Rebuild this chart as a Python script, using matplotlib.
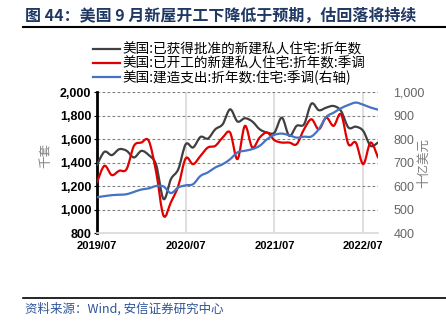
import numpy as np
import matplotlib
matplotlib.use("Agg")
import matplotlib.pyplot as plt
from matplotlib.path import Path
from matplotlib.patches import PathPatch
from matplotlib.lines import Line2D
from matplotlib.ticker import FuncFormatter

plt.rcParams['font.family'] = ['Liberation Sans', 'Noto Sans CJK SC', 'DejaVu Sans']
CJK = ['Noto Sans CJK SC', 'DejaVu Sans']

# monthly data, 2019/07 - 2022/09
permits = [1380, 1491, 1463, 1513, 1500, 1443, 1499, 1463, 1380, 1089, 1259, 1344,
           1556, 1528, 1618, 1604, 1683, 1726, 1853, 1749, 1777, 1749, 1683, 1655,
           1655, 1782, 1627, 1712, 1726, 1901, 1845, 1867, 1881, 1839, 1698, 1705,
           1669, 1542, 1570]
starts = [1231, 1372, 1293, 1330, 1344, 1542, 1570, 1584, 1318, 947, 1063, 1202,
          1436, 1386, 1457, 1528, 1542, 1613, 1655, 1429, 1712, 1528, 1613, 1655,
          1590, 1570, 1570, 1556, 1683, 1768, 1683, 1782, 1712, 1811, 1556, 1570,
          1386, 1570, 1443]
spending = [552, 557, 561, 563, 565, 575, 585, 590, 600, 598, 570, 594,
            603, 608, 643, 658, 679, 693, 714, 743, 750, 757, 771, 799,
            818, 823, 816, 806, 810, 811, 842, 894, 912, 931, 945, 955,
            946, 934, 925]
xticklabels = ['2019/07', '2020/07', '2021/07', '2022/07']
names = ['美国:已获得批准的新建私人住宅:折年数',
         '美国:已开工的新建私人住宅:折年数:季调',
         '美国:建造支出:折年数:住宅:季调(右轴)']
colors = ['#404040', '#E00000', '#4472C4']


def smooth_path(y):
    # smoothed line through every point (Catmull-Rom as cubic Bezier)
    x = np.arange(len(y), dtype=float)
    p = np.column_stack([x, np.asarray(y, dtype=float)])
    p = np.vstack([p[0], p, p[-1]])
    verts = [p[1]]
    codes = [Path.MOVETO]
    for i in range(1, len(p) - 2):
        c1 = p[i] + (p[i + 1] - p[i - 1]) / 6
        c2 = p[i + 1] - (p[i + 2] - p[i]) / 6
        verts += [c1, c2, p[i + 1]]
        codes += [Path.CURVE4] * 3
    return Path(verts, codes)


fig = plt.figure(figsize=(4.46, 3.31), dpi=100)
ax = fig.add_axes([0.2175, 0.296, 0.630, 0.426])
ax2 = ax.twinx()

n = len(starts)
ax.set_xlim(0, n - 1)
ax.set_ylim(800, 2000)
ax2.set_ylim(400, 1000)

for y, c in [(permits, colors[0]), (starts, colors[1])]:
    ax.add_patch(PathPatch(smooth_path(y), fill=False, edgecolor=c, lw=1.6,
                           capstyle='round', joinstyle='round', zorder=3))
ax2.add_patch(PathPatch(smooth_path(spending), fill=False, edgecolor=colors[2],
                        lw=1.6, capstyle='round', joinstyle='round', zorder=3))

ax.set_yticks(np.arange(800, 2001, 200))
ax.yaxis.set_major_formatter(FuncFormatter(lambda v, p: f'{int(v):,}'))
ax2.set_yticks(np.arange(400, 1001, 100))
ax2.yaxis.set_major_formatter(FuncFormatter(lambda v, p: f'{int(v):,}'))

ax.set_xticks([0, 12, 24, 36])
ax.set_xticklabels(xticklabels, fontsize=8, fontweight='bold')
ax.tick_params(axis='x', length=0, pad=6)
ax.tick_params(axis='y', labelsize=9, length=2, width=0.8, pad=2)
for t in ax.get_yticklabels():
    t.set_fontweight('bold')
ax2.tick_params(axis='y', labelsize=9, length=0, pad=11, labelcolor='#666666')

for v in range(1000, 2001, 200):
    ax.axhline(v, color='#808080', lw=0.8, ls=(0, (2.5, 2)), zorder=1)
for m in [12, 24, 36]:
    ax.axvline(m, color='#D9D9D9', lw=1.2, zorder=0)

for s in ['top', 'right']:
    ax.spines[s].set_visible(False)
    ax2.spines[s].set_visible(False)
ax2.spines['left'].set_visible(False)
ax2.spines['bottom'].set_visible(False)
ax.spines['left'].set_linewidth(2)
ax.spines['left'].set_color('#000000')
ax.spines['bottom'].set_color('#D9D9D9')
ax.spines['bottom'].set_linewidth(1.2)

ax.set_ylabel('千套', fontsize=9, color='#7F7F7F', family=CJK)
ax.yaxis.set_label_coords(-0.16, 0.55)
ax2.set_ylabel('十亿美元', fontsize=9, color='#7F7F7F', family=CJK)
ax2.yaxis.set_label_coords(1.14, 0.5)

handles = [Line2D([], [], color=c, lw=1.6) for c in colors]
fig.legend(handles, names, loc='upper left', bbox_to_anchor=(0.208, 0.872),
           frameon=False, handlelength=2.0, handletextpad=0.15,
           labelspacing=0.0, borderpad=0, borderaxespad=0,
           prop={'family': CJK, 'size': 9.8})

fig.text(0.055, 0.952, '图 44：美国 9 月新屋开工下降低于预期，估回落将持续',
         fontsize=11.5, fontweight='bold', color='#1F3864', va='center',
         family=CJK)
fig.add_artist(Line2D([0.052, 1.0], [0.918, 0.918], color='#000000', lw=1.5))
fig.add_artist(Line2D([0.052, 1.0], [0.100, 0.100], color='#000000', lw=1.2))
fig.text(0.055, 0.068, '资料来源：Wind, 安信证券研究中心', fontsize=9,
         style='italic', color='#2F5597', va='center', family=CJK)

fig.savefig('out.png', dpi=100)
